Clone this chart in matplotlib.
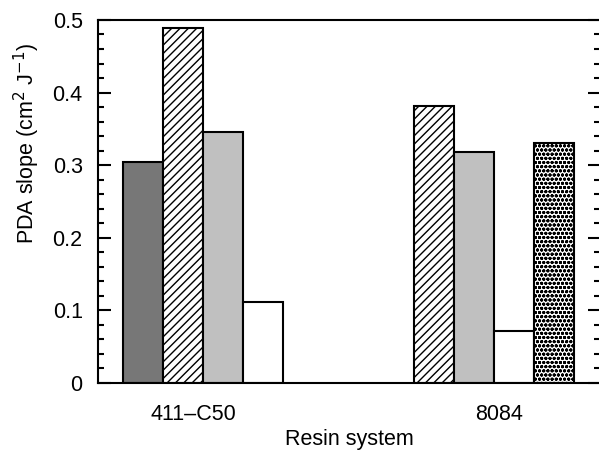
import matplotlib
matplotlib.use("Agg")
from matplotlib import pyplot as plt
from matplotlib.ticker import MultipleLocator
import numpy as np

plt.rcParams["font.family"] = ["Liberation Sans", "DejaVu Sans"]
plt.rcParams["hatch.linewidth"] = 1.0

# PDA slope per resin system, one list per treatment (None = not measured)
resins = ["411–C50", "8084"]
label_pos = [-0.12, 1.1]
series1 = [0.305, None]
series2 = [0.489, 0.382]
series3 = [0.345, 0.318]
series4 = [0.111, 0.072]
series5 = [None, 0.331]

styles = [
    dict(facecolor="#777777"),
    dict(facecolor="white", hatch="////"),
    dict(facecolor="#c0c0c0"),
    dict(facecolor="white"),
    dict(facecolor="white", hatch="oooo"),
]

fig = plt.figure(figsize=(5.99, 4.51), dpi=100)
ax = fig.add_axes([0.1636, 0.1508, 0.8384, 0.805])

w = 0.16
centers = np.arange(len(resins))
for i, (vals, st) in enumerate(zip([series1, series2, series3, series4, series5], styles)):
    for c, v in zip(centers, vals):
        if v is None:
            continue
        ax.bar(c + (i - 2) * w, v, width=w, edgecolor="black", linewidth=1.5, **st)

ax.set_xlim(-0.5, 1.504)
ax.set_ylim(0, 0.5)
ax.set_xticks(label_pos)
ax.set_xticklabels(resins)
ax.tick_params(axis="x", length=0, pad=15, labelsize=15.5)

ax.yaxis.set_major_locator(MultipleLocator(0.1))
ax.yaxis.set_minor_locator(MultipleLocator(0.02))
ax.set_yticks([0, 0.1, 0.2, 0.3, 0.4, 0.5])
ax.set_yticklabels(["0", "0.1", "0.2", "0.3", "0.4", "0.5"])
ax.tick_params(axis="y", which="both", direction="in", right=True, width=1.5, labelsize=15.5, pad=11)
ax.tick_params(axis="y", which="major", length=9)
ax.tick_params(axis="y", which="minor", length=4)

for s in ax.spines.values():
    s.set_linewidth(1.5)

ax.set_xlabel("Resin system", fontsize=15.5, labelpad=3)
ax.set_ylabel("PDA slope (cm$^2$ J$^{-1}$)", fontsize=15.5)
ax.yaxis.set_label_coords(-0.112, 0.66)

fig.savefig("out.png", dpi=100)
